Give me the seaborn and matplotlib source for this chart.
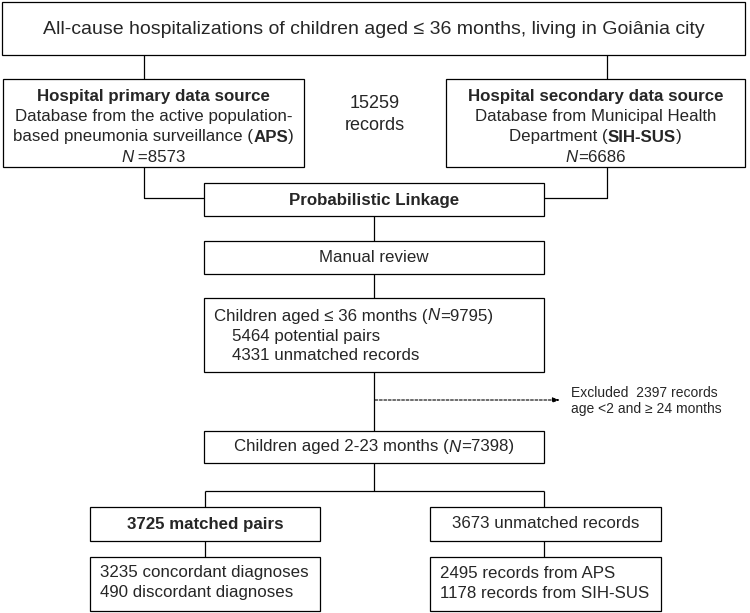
import matplotlib
matplotlib.use("Agg")
import matplotlib.pyplot as plt
from matplotlib.patches import Rectangle
import seaborn as sns

# ---- data (counts shown in the flowchart) ----
total_records = 15259
source_names = ["APS", "SIH-SUS"]
source_counts = [8573, 6686]
children_36_n = 9795
pairs_36 = [5464, 4331]          # potential pairs, unmatched records
excluded_n = 2397
children_2_23_n = 7398
split_2_23 = [3725, 3673]        # matched pairs, unmatched records
matched_breakdown = [3235, 490]  # concordant, discordant
unmatched_breakdown = [2495, 1178]  # from APS, from SIH-SUS

sns.set_theme(style="white")
plt.rcParams["font.family"] = ["Liberation Sans", "DejaVu Sans"]

W, H = 750, 613
fig = plt.figure(figsize=(W / 100, H / 100), dpi=100)
ax = fig.add_axes([0, 0, 1, 1])
ax.set_xlim(0, W)
ax.set_ylim(H, 0)
ax.axis("off")

FS = 12.2
FS_TOP = 14
FS_MID = 13
FS_SMALL = 10
LW = 0.9


def box(x0, y0, x1, y1):
    ax.add_patch(Rectangle((x0, y0), x1 - x0, y1 - y0, fill=False,
                           edgecolor="black", linewidth=LW))


def line(xs, ys, **kw):
    ax.plot(xs, ys, color="black", linewidth=LW, solid_capstyle="butt", **kw)


fig.canvas.draw()
renderer = fig.canvas.get_renderer()


def rich(x, y, segs, ha="center", fs=FS):
    """segs: list of (text, weight, style)."""
    objs = []
    widths = []
    for t, w, s in segs:
        o = ax.text(0, y, t, fontsize=fs, fontweight=w, fontstyle=s,
                    ha="left", va="center")
        bb = o.get_window_extent(renderer=renderer)
        objs.append(o)
        widths.append(bb.width)
    total = sum(widths)
    start = x - total / 2 if ha == "center" else x
    cur = start
    for o, wd in zip(objs, widths):
        o.set_x(cur)
        cur += wd


def txt(x, y, s, ha="center", weight="normal", fs=FS):
    ax.text(x, y, s, fontsize=fs, fontweight=weight, ha=ha, va="center")


# ---- boxes ----
box(2, 2, 745, 55)
box(3, 79, 304, 167)
box(446, 79, 745, 167)
box(204, 183, 544, 216)
box(204, 241, 544, 274)
box(204, 298, 544, 372)
box(204, 431, 544, 463)
box(90, 507, 320, 541)
box(430, 507, 661, 541)
box(90, 557, 320, 611)
box(430, 557, 661, 611)

# ---- connectors ----
line([144, 144], [55, 79])
line([607, 607], [55, 79])
line([144, 144, 204], [167, 198, 198])
line([607, 607, 544], [167, 198, 198])
line([374, 374], [216, 241])
line([374, 374], [274, 298])
line([374, 374], [372, 431])
line([374, 374], [463, 491])
line([205, 544], [491, 491])
line([205, 205], [491, 507])
line([544, 544], [491, 507])
line([205, 205], [541, 557])
line([544, 544], [541, 557])

ax.annotate("", xy=(560, 400), xytext=(375, 400),
            arrowprops=dict(arrowstyle="-|>,head_length=0.35,head_width=0.12",
                            color="black", lw=0.8, linestyle=(0, (2.5, 1.5)),
                            shrinkA=0, shrinkB=0))

# ---- text ----
txt(373.5, 29, "All-cause hospitalizations of children aged \u2264 36 months, "
    "living in Goi\u00e2nia city", fs=FS_TOP)

cl = 153.5
rich(cl, 97, [("Hospital primary data source", "bold", "normal")])
rich(cl, 117, [("Database from the active population-", "normal", "normal")])
rich(cl, 137, [("based pneumonia surveillance (", "normal", "normal"),
               (source_names[0], "bold", "normal"),
               (")", "normal", "normal")])
rich(cl, 157, [("N", "normal", "italic"),
               (f" ={source_counts[0]}", "normal", "normal")])

cr = 595.5
rich(cr, 97, [("Hospital secondary data source", "bold", "normal")])
rich(cr, 117, [("Database from Municipal Health", "normal", "normal")])
rich(cr, 137, [("Department (", "normal", "normal"),
               (source_names[1], "bold", "normal"),
               (")", "normal", "normal")])
rich(cr, 157, [("N", "normal", "italic"),
               (f"={source_counts[1]}", "normal", "normal")])

txt(375, 103, f"{total_records}", fs=FS_MID)
txt(375, 125, "records", fs=FS_MID)

txt(374, 200, "Probabilistic Linkage", weight="bold")
txt(374, 257, "Manual review")

rich(214, 316, [("Children aged \u2264 36 months (", "normal", "normal"),
                ("N", "normal", "italic"),
                (f"={children_36_n})", "normal", "normal")], ha="left")
txt(232, 336, f"{pairs_36[0]} potential pairs", ha="left")
txt(232, 356, f"{pairs_36[1]} unmatched records", ha="left")

txt(571, 393, f"Excluded  {excluded_n} records", ha="left", fs=FS_SMALL)
txt(571, 409, "age <2 and \u2265 24 months", ha="left", fs=FS_SMALL)

rich(374, 447, [("Children aged 2-23 months (", "normal", "normal"),
                ("N", "normal", "italic"),
                (f"={children_2_23_n})", "normal", "normal")])

txt(205, 524, f"{split_2_23[0]} matched pairs", weight="bold")
txt(545.5, 524, f"{split_2_23[1]} unmatched records")

txt(100, 573, f"{matched_breakdown[0]} concordant diagnoses", ha="left")
txt(100, 593, f"{matched_breakdown[1]} discordant diagnoses", ha="left")
txt(440, 573, f"{unmatched_breakdown[0]} records from APS", ha="left")
txt(440, 593, f"{unmatched_breakdown[1]} records from SIH-SUS", ha="left")

fig.savefig("out.png", dpi=100, facecolor="white")
